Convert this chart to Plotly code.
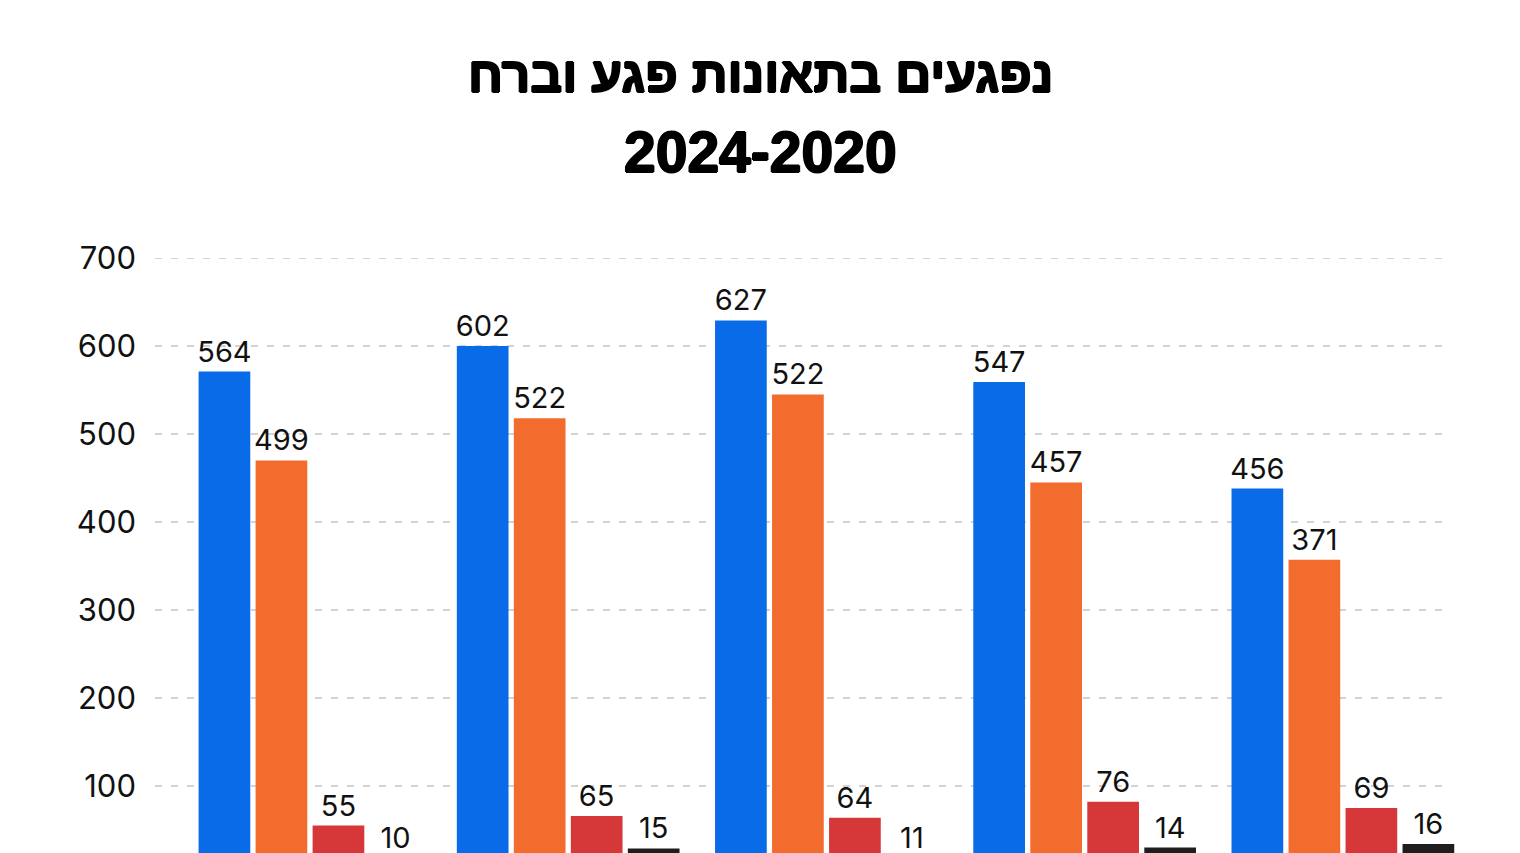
import plotly.graph_objects as go

years = ["2020", "2021", "2022", "2023", "2024"]

series_names = ["סה״כ נפגעים", "פצועים קל", "פצועים קשה", "הרוגים"]
series_colors = ["#0A6BE8", "#F26C2E", "#D6383A", "#1E1E1E"]

# label values as printed above the bars
total_labels = [564, 602, 627, 547, 456]
light_labels = [499, 522, 522, 457, 371]
serious_labels = [55, 65, 64, 76, 69]
killed_labels = [10, 15, 11, 14, 16]

# bar heights as drawn in the picture (they don't always match the labels)
total_bars = [571, 600, 629, 559, 438]
light_bars = [470, 518, 545, 445, 357]
serious_bars = [55, 66, 64, 82, 75]
killed_bars = [18, 29, 18, 30, 34]

y_ticks = [100, 200, 300, 400, 500, 600, 700]

FONT = "Inter, Lato, sans-serif"
TITLE_FONT = "Liberation Sans, Arial, sans-serif"
# the original title face is heavier than any bold installed here
HEAVY = "1px 0 0 #000, -1px 0 0 #000, 0 1px 0 #000, 0 -1px 0 #000"


def main() -> None:
    fig = go.Figure()

    bars = [total_bars, light_bars, serious_bars, killed_bars]
    labels = [total_labels, light_labels, serious_labels, killed_labels]
    for name, color, heights, text in zip(series_names, series_colors, bars, labels):
        fig.add_trace(
            go.Bar(
                x=years,
                y=heights,
                name=name,
                marker=dict(color=color, line=dict(width=0)),
                text=[str(v) for v in text],
                textposition="outside",
                textfont=dict(family=FONT, size=29, color="#111111"),
                constraintext="none",
                cliponaxis=False,
                hoverinfo="skip",
            )
        )

    # dashed gridlines that stop a bit before the right edge, like the original
    for v in y_ticks:
        fig.add_shape(
            type="line",
            xref="paper",
            yref="y",
            x0=0,
            x1=0.978,
            y0=v,
            y1=v,
            line=dict(color="#C4C4C4", width=1.5, dash="7px,9px"),
            layer="below",
        )

    # title lines centred on the page, not on the plot area
    title_x = 0.4594
    fig.add_annotation(
        text="<b>נפגעים בתאונות פגע וברח</b>",
        xref="paper",
        yref="paper",
        x=title_x,
        y=1.297,
        xanchor="center",
        yanchor="middle",
        showarrow=False,
        font=dict(family=TITLE_FONT, size=50, color="#000000", shadow=HEAVY),
    )
    fig.add_annotation(
        text="<b>2024-2020</b>",
        xref="paper",
        yref="paper",
        x=title_x,
        y=1.172,
        xanchor="center",
        yanchor="middle",
        showarrow=False,
        font=dict(family=TITLE_FONT, size=57, color="#000000", shadow=HEAVY),
    )

    fig.update_layout(
        width=1520,
        height=1000,
        margin=dict(l=147, r=56, t=250, b=134),
        paper_bgcolor="white",
        plot_bgcolor="white",
        barmode="group",
        bargap=0.117,
        bargroupgap=0.093,
        showlegend=True,
        legend=dict(
            orientation="h",
            x=0.5,
            xanchor="center",
            y=-0.12,
            font=dict(family=FONT, size=22),
        ),
        font=dict(family=FONT, color="#111111"),
    )
    fig.update_xaxes(
        type="category",
        range=[-0.6, 4.5],
        showgrid=False,
        showline=False,
        ticks="",
        tickfont=dict(family=FONT, size=26),
    )
    fig.update_yaxes(
        range=[0, 700],
        tickvals=y_ticks,
        showgrid=False,
        zeroline=False,
        showline=False,
        ticks="",
        ticklabelstandoff=18,
        tickfont=dict(family=FONT, size=31, color="#111111"),
    )

    fig.write_html("out.html")


if __name__ == "__main__":
    main()
